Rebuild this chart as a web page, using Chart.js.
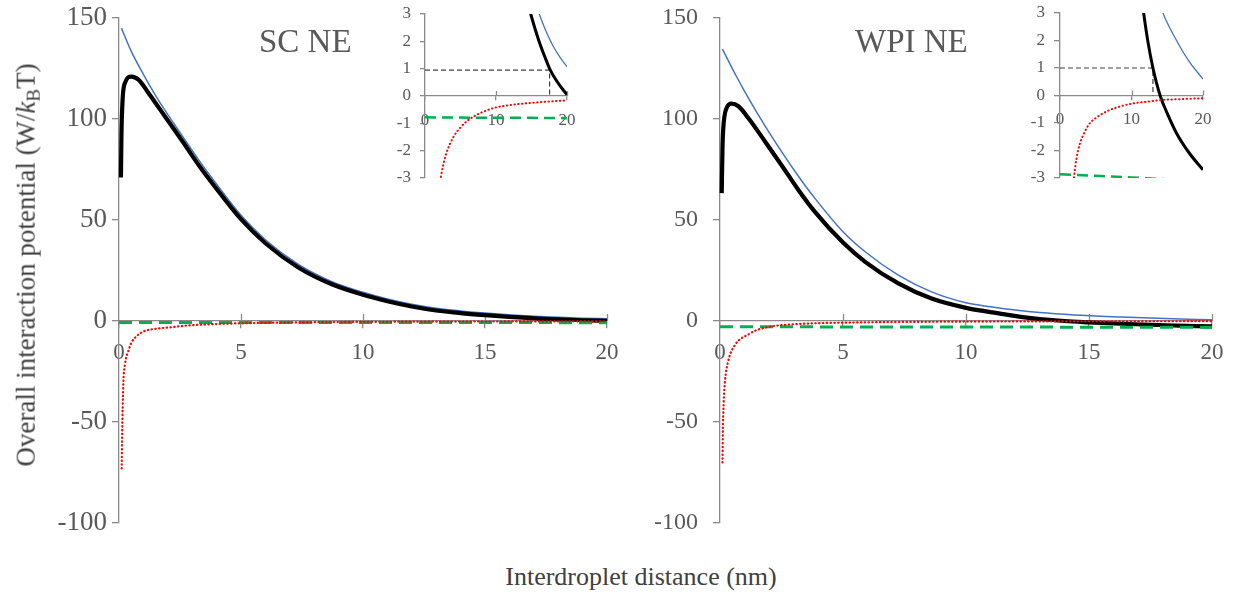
<!DOCTYPE html>
<html>
<head>
<meta charset="utf-8">
<script src="https://cdn.jsdelivr.net/npm/chart.js@4.4.1/dist/chart.umd.min.js"></script>
<style>
  body { margin: 0; background: #fff; }
  #fig { position: relative; width: 1236px; height: 596px; overflow: hidden;
         font-family: "Liberation Serif", "Times New Roman", serif; color: #404040; }
  canvas { position: absolute; }
  .lbl { position: absolute; white-space: nowrap; line-height: 1; }
  #ytitle { left: 28px; top: 265px; font-size: 27px; transform: translate(-50%, -50%) rotate(-90deg); }
  #xtitle { left: 641px; top: 577px; font-size: 26px; transform: translate(-50%, -50%); }
  sub { font-size: 0.7em; vertical-align: -0.25em; }
</style>
</head>
<body>
<div id="fig">
  <canvas id="scMain" width="620" height="545" style="left:0;top:0"></canvas>
  <canvas id="wpiMain" width="616" height="545" style="left:620px;top:0"></canvas>
  <canvas id="scInset" width="200" height="200" style="left:385px;top:0"></canvas>
  <canvas id="wpiInset" width="200" height="200" style="left:1020px;top:0"></canvas>
  <div class="lbl" style="left:259px;top:25px;font-size:33px;color:#595959">SC NE</div>
  <div class="lbl" style="left:855px;top:25px;font-size:33px;color:#595959">WPI NE</div>
  <div class="lbl" id="ytitle">Overall interaction potential (W/<i>k</i><sub>B</sub>T)</div>
  <div class="lbl" id="xtitle">Interdroplet distance (nm)</div>
</div>
<script>
// SC NE (nm, W/kBT)
var scTotalX = [0.08, 0.1, 0.15, 0.25, 0.5, 0.8, 1.2, 1.9, 2.6, 3.25, 3.9, 5, 6, 7.35, 8.7, 10, 11, 12, 13, 14, 15, 16, 17, 17.55, 18, 19, 20];
var scTotal = [71, 92, 110, 118, 121, 119.5, 113, 101, 89, 77.5, 67, 50.4, 38.5, 26.5, 18.3, 13, 9.8, 7.2, 5.2, 3.9, 2.9, 2.05, 1.35, 1.0, 0.78, 0.38, 0.05];
var scElecX = [0.1, 0.5, 1, 1.5, 1.9, 2.6, 3.25, 3.9, 5, 6, 7.35, 8.7, 10, 11, 12, 13, 14, 15, 16.1, 17, 18, 19, 20];
var scElec = [145, 133.6, 122.1, 111.6, 104, 91.5, 80, 69.3, 52.3, 40.2, 28, 19.6, 14.2, 10.9, 8.3, 6.3, 4.97, 3.95, 3.0, 2.4, 1.85, 1.42, 1.07];
var scVdwX = [0.11, 0.13, 0.15, 0.18, 0.25, 0.38, 0.5, 0.72, 1, 1.3, 1.7, 2.2, 2.5, 3, 4, 5, 6, 8, 10, 12, 15, 20];
var scVdw = [-73, -55, -43, -30, -21, -15, -11, -7.5, -5.2, -4.2, -3.6, -3.0, -2.6, -2.1, -1.5, -1.15, -0.9, -0.6, -0.42, -0.33, -0.25, -0.16];
var scGreenX = [0, 5, 10, 15, 20];
var scGreen = [-0.78, -0.79, -0.8, -0.8, -0.81];
var scCrossX = [0, 17.55, 17.55];
var scCross = [0.95, 0.95, 0];

// WPI NE
var wpiTotalX = [0.07, 0.1, 0.13, 0.27, 0.47, 0.75, 1.15, 1.83, 2.51, 3.18, 3.86, 5, 5.9, 7.25, 8.6, 10, 11, 11.7, 12.3, 13, 14, 15, 16.3, 18.1, 20];
var wpiTotal = [63.3, 85, 94.7, 105.5, 107.6, 106.3, 100.5, 88.9, 77, 65, 54, 38.8, 29.3, 18.6, 11.1, 6.5, 4.4, 3.0, 1.95, 1.0, 0, -0.65, -1.37, -2.1, -2.7];
var wpiElecX = [0.1, 0.61, 1.15, 1.83, 2.51, 3.18, 3.86, 5, 5.9, 7.25, 8.6, 10, 11, 12, 13, 14.4, 16.3, 18.1, 20];
var wpiElec = [134.6, 122.4, 110.5, 96.6, 83.7, 71.8, 60.7, 44.2, 34.3, 22.7, 14.4, 9.0, 7.0, 5.4, 4.15, 3.0, 2.0, 1.22, 0.6];
var wpiVdwX = [0.1, 0.12, 0.15, 0.2, 0.33, 0.6, 1.17, 1.5, 1.95, 2.3, 2.8, 3.5, 4.2, 5, 6.5, 8, 10, 12, 14.4, 17, 20];
var wpiVdw = [-70, -52, -40, -30, -20, -12, -6.5, -4.5, -3.0, -2.3, -1.74, -1.3, -1.0, -0.82, -0.58, -0.43, -0.3, -0.23, -0.16, -0.13, -0.1];
var wpiGreenX = [0, 5, 10, 16.7, 20];
var wpiGreen = [-2.86, -2.92, -2.98, -3.07, -3.1];
var wpiCrossX = [0, 13, 13];
var wpiCross = [1, 1, 0];

var axisGray = '#8a8a8a';
var tickGray = '#595959';

Chart.defaults.font.family = '"Liberation Serif", "Times New Roman", serif';

function pts(xs, ys) {
    var out = [];
    for (var i = 0; i < xs.length; i++) {
        out.push({ x: xs[i], y: ys[i] });
    }
    return out;
}

// x ticks in the picture cross the zero line, Chart.js only draws them downwards
var crossTicks = {
    id: 'crossTicks',
    beforeDatasetsDraw: function (chart, args, opts) {
        var xs = chart.scales.x;
        var y0 = chart.scales.y.getPixelForValue(0);
        var ctx = chart.ctx;
        ctx.save();
        ctx.strokeStyle = axisGray;
        ctx.lineWidth = 1.3;
        xs.ticks.forEach(function (t) {
            if (t.value === xs.min) return;
            var px = Math.round(xs.getPixelForValue(t.value)) + 0.5;
            ctx.beginPath();
            ctx.moveTo(px, y0);
            ctx.lineTo(px, y0 - opts.up);
            ctx.stroke();
        });
        ctx.restore();
    }
};

function buildSets(s, inset) {
    var common = { pointRadius: 0, fill: false, cubicInterpolationMode: 'monotone', clip: inset ? 0 : false };
    var sets = [
        Object.assign({ data: pts(s.vdwX, s.vdw), borderColor: '#ff0000', borderWidth: inset ? 2 : 2.2,
            borderDash: [0.4, 3.4], borderCapStyle: 'round' }, common),
        Object.assign({ data: pts(s.greenX, s.green), borderColor: '#00b050', borderWidth: inset ? 2.5 : 3,
            borderDash: inset ? [11, 6] : [13, 7] }, common),
        Object.assign({ data: pts(s.totalX, s.total), borderColor: '#000000', borderWidth: inset ? 3 : 4.2 }, common),
        Object.assign({ data: pts(s.elecX, s.elec), borderColor: '#4472c4', borderWidth: inset ? 1.3 : 1.5 }, common)
    ];
    if (inset) {
        sets.push({ data: pts(s.crossX, s.cross), borderColor: '#404040', borderWidth: 1.2, borderDash: [5, 3],
            pointRadius: 0, fill: false, tension: 0, clip: 0 });
    }
    return sets;
}

function makeChart(id, s, o) {
    return new Chart(document.getElementById(id), {
        type: 'line',
        data: { datasets: buildSets(s, o.inset) },
        options: {
            responsive: false,
            animation: false,
            events: [],
            layout: { padding: o.pad },
            plugins: {
                legend: { display: false },
                tooltip: { enabled: false },
                crossTicks: { up: o.up }
            },
            scales: {
                x: {
                    type: 'linear', min: 0, max: 20,
                    position: { y: 0 },
                    border: { color: axisGray, width: 1.3 },
                    grid: { drawOnChartArea: false, color: axisGray, lineWidth: 1.3, tickLength: o.xTick },
                    ticks: { stepSize: o.xStep, autoSkip: false, maxRotation: 0, color: tickGray,
                        font: { size: o.xFont }, padding: o.xPad },
                    afterFit: function (sc) { sc.height = 0; sc.paddingLeft = 0; sc.paddingRight = 0; }
                },
                y: {
                    type: 'linear', min: o.yMin, max: o.yMax,
                    border: { color: axisGray, width: 1.3 },
                    grid: { drawOnChartArea: false, color: axisGray, lineWidth: 1.3, tickLength: o.yTick },
                    ticks: { stepSize: o.yStep, color: tickGray, font: { size: o.yFont }, padding: o.yPad },
                    afterFit: function (sc) { sc.width = o.yWidth; sc.paddingTop = 0; sc.paddingBottom = 0; }
                }
            }
        },
        plugins: [crossTicks]
    });
}

var sc = { totalX: scTotalX, total: scTotal, elecX: scElecX, elec: scElec, vdwX: scVdwX, vdw: scVdw,
    greenX: scGreenX, green: scGreen, crossX: scCrossX, cross: scCross };
var wpi = { totalX: wpiTotalX, total: wpiTotal, elecX: wpiElecX, elec: wpiElec, vdwX: wpiVdwX, vdw: wpiVdw,
    greenX: wpiGreenX, green: wpiGreen, crossX: wpiCrossX, cross: wpiCross };

makeChart('scMain', sc, { inset: false, pad: { top: 18, right: 13, bottom: 22, left: 0 }, up: 7,
    xTick: 7, xStep: 5, xFont: 23, xPad: 11, yMin: -100, yMax: 150, yStep: 50, yTick: 7, yFont: 27, yPad: 5, yWidth: 119 });
makeChart('wpiMain', wpi, { inset: false, pad: { top: 18, right: 24, bottom: 22, left: 0 }, up: 7,
    xTick: 7, xStep: 5, xFont: 23, xPad: 11, yMin: -100, yMax: 150, yStep: 50, yTick: 7, yFont: 24, yPad: 15, yWidth: 100 });
makeChart('scInset', sc, { inset: true, pad: { top: 14, right: 18, bottom: 22, left: 0 }, up: 5,
    xTick: 4, xStep: 10, xFont: 17, xPad: 10, yMin: -3, yMax: 3, yStep: 1, yTick: 5, yFont: 17, yPad: 9, yWidth: 40 });
makeChart('wpiInset', wpi, { inset: true, pad: { top: 13, right: 17, bottom: 22, left: 0 }, up: 5,
    xTick: 4, xStep: 10, xFont: 17, xPad: 10, yMin: -3, yMax: 3, yStep: 1, yTick: 6, yFont: 17, yPad: 9, yWidth: 40 });
</script>
</body>
</html>
